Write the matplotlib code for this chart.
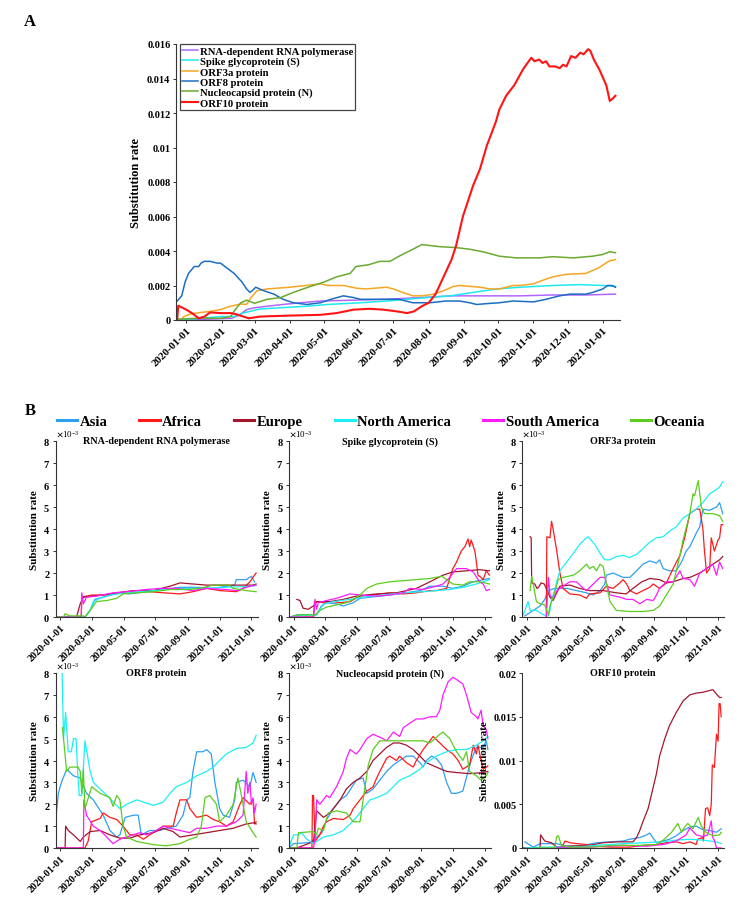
import numpy as np
import matplotlib
matplotlib.use('Agg')
import matplotlib.pyplot as plt
import matplotlib.dates as mdates
from matplotlib.ticker import ScalarFormatter, FuncFormatter, MultipleLocator

plt.rcParams['font.family'] = ['Liberation Serif', 'DejaVu Serif']
plt.rcParams['font.weight'] = 'bold'
plt.rcParams['mathtext.fontset'] = 'stix'

# points are (days since 2020-01-01, value)
base = np.datetime64('2020-01-01')

# ---- panel A: substitution rate per protein
a_rdrp = [(-6,0),(20,0.00005),(40,0.0001),(47,0.0003),(53,0.0006),(59,0.0007),(71,0.0008),(85,0.0009),(100,0.001),(118,0.0011),(147,0.00115),(176,0.0012),(205,0.0013),(235,0.0014),(264,0.0014),(293,0.0014),(322,0.00145),(351,0.00145),(377,0.0015)]
a_spike = [(-6,0),(13,0.0001),(30,0.0002),(42,0.0002),(50,0.0004),(56,0.0005),(65,0.00064),(88,0.00073),(106,0.0008),(124,0.0009),(153,0.001),(176,0.0011),(194,0.0012),(211,0.0013),(232,0.0014),(252,0.0016),(273,0.0018),(293,0.0019),(322,0.002),(346,0.00205),(366,0.002),(377,0.00195)]
a_orf3a = [(-5,0),(-2,0.0002),(4,0.00035),(13,0.00044),(21,0.0005),(30,0.0006),(39,0.0008),(48,0.00093),(53,0.0009),(57,0.0013),(62,0.0017),(71,0.0018),(91,0.0019),(109,0.00203),(118,0.0021),(124,0.002),(138,0.002),(150,0.00184),(158,0.0018),(176,0.0019),(182,0.0018),(190,0.0016),(199,0.0014),(208,0.0014),(217,0.0015),(226,0.0017),(235,0.00195),(240,0.002),(249,0.00195),(258,0.0019),(267,0.0018),(275,0.0018),(287,0.002),(293,0.002),(305,0.0021),(313,0.0023),(322,0.0025),(334,0.00265),(351,0.0027),(363,0.00305),(372,0.00344),(377,0.0035)]
a_orf8 = [(-8,0.0011),(-4,0.0014),(-1,0.0022),(2,0.0027),(7,0.0031),(11,0.0031),(13,0.0033),(16,0.0034),(21,0.0034),(27,0.0033),(30,0.0033),(36,0.003),(42,0.0027),(49,0.0022),(53,0.0018),(56,0.0016),(58,0.0017),(61,0.0019),(68,0.0017),(77,0.0015),(85,0.0012),(94,0.001),(106,0.0009),(118,0.001),(127,0.0012),(138,0.0014),(147,0.0013),(153,0.0012),(176,0.0012),(187,0.0012),(199,0.001),(214,0.001),(228,0.0011),(240,0.0011),(249,0.001),(255,0.0009),(264,0.00095),(275,0.001),(287,0.0011),(305,0.00105),(316,0.0012),(328,0.0014),(337,0.0015),(351,0.0015),(357,0.0016),(366,0.0018),(370,0.002),(374,0.002),(377,0.0019)]
a_nucleo = [(-7,0.00005),(10,0.0001),(30,0.0001),(39,0.0002),(43,0.0006),(48,0.001),(53,0.00115),(60,0.00097),(71,0.0012),(83,0.0013),(94,0.0016),(107,0.0019),(121,0.0022),(132,0.0025),(144,0.0027),(149,0.0031),(160,0.0032),(170,0.0034),(179,0.0034),(187,0.0037),(199,0.0041),(207,0.00437),(223,0.00425),(237,0.0042),(249,0.0041),(261,0.00395),(275,0.0037),(290,0.0036),(310,0.0036),(322,0.00367),(340,0.0036),(357,0.0037),(366,0.0038),(372,0.00396),(377,0.0039)]
a_orf10 = [(-8,0),(-7,0.00083),(0,0.0006),(5,0.0004),(11,0.0001),(16,0.0002),(21,0.00044),(30,0.0004),(39,0.0004),(43,0.00035),(50,0.0002),(55,0.0001),(65,0.0002),(88,0.00025),(118,0.0003),(132,0.0004),(147,0.0006),(161,0.00065),(173,0.0006),(185,0.0005),(194,0.0004),(200,0.0005),(207,0.0008),(213,0.001),(219,0.0015),(226,0.0025),(233,0.0035),(237,0.0043),(243,0.006),(252,0.0078),(258,0.00875),(264,0.0101),(272,0.0115),(275,0.0122),(281,0.013),(288,0.0136),(296,0.01455),(303,0.0152),(306,0.015),(310,0.0151),(313,0.0149),(316,0.015),(319,0.0147),(324,0.0147),(328,0.0146),(331,0.0148),(334,0.0147),(338,0.0153),(342,0.0152),(346,0.0155),(349,0.0154),(353,0.0157),(355,0.0156),(358,0.0151),(363,0.0145),(369,0.0136),(372,0.0127),(374,0.0128),(377,0.013)]

a_labels = ['RNA-dependent RNA polymerase', 'Spike glycoprotein (S)', 'ORF3a protein',
            'ORF8 protein', 'Nucleocapsid protein (N)', 'ORF10 protein']
a_series = [a_rdrp, a_spike, a_orf3a, a_orf8, a_nucleo, a_orf10]
a_colors = ['#b266ff', '#1ee8f0', '#f5a623', '#1b6ec2', '#6aaa2e', '#ff1414']

# ---- panel B: per region, values in units of 1e-3
regions = ['Asia', 'Africa', 'Europe', 'North America', 'South America', 'Oceania']
region_colors = ['#2f9ff0', '#ff1a1a', '#a3162e', '#1cf0f5', '#ff1aff', '#5ccc1e']

rdrp_asia = [(-10,0),(47,0),(57,0.3),(66,0.8),(89,0.95),(114,1.1),(133,1.05),(165,1.15),(197,1.25),(229,1.35),(261,1.35),(293,1.3),(318,1.4),(334,1.45),(337,1.7),(356,1.7),(366,1.85),(372,1.6)]
rdrp_africa = [(-8,0),(40,0),(41,0.9),(60,1.0),(89,1.0),(114,1.1),(146,1.2),(197,1.1),(229,1.05),(254,1.15),(280,1.3),(305,1.2),(337,1.15),(350,1.3),(363,1.6),(372,1.9),(375,2.0)]
rdrp_europe = [(-8,0),(31,0),(38,0.6),(44,0.9),(60,0.95),(82,1.0),(108,1.1),(140,1.2),(178,1.2),(210,1.4),(229,1.55),(254,1.5),(280,1.45),(318,1.45),(369,1.45),(375,1.5)]
rdrp_namerica = [(-8,0),(47,0),(57,0.3),(63,0.7),(76,0.85),(95,1.0),(127,1.1),(178,1.2),(229,1.3),(280,1.3),(318,1.35),(369,1.4),(375,1.45)]
rdrp_samerica = [(-8,0),(40,0),(41,1.1),(44,0.6),(50,0.9),(69,0.95),(101,1.1),(127,1.15),(165,1.25),(191,1.3),(222,1.3),(254,1.2),(280,1.3),(318,1.25),(337,1.2),(363,1.4),(375,1.45)]
rdrp_oceania = [(-8,0),(6,0),(9,0.15),(18,0.05),(44,0.05),(47,0),(57,0.3),(69,0.7),(89,0.75),(108,0.85),(120,1.05),(146,1.1),(178,1.15),(210,1.25),(242,1.25),(267,1.3),(293,1.45),(324,1.45),(331,1.3),(356,1.2),(375,1.15)]

spike_asia = [(-7,0),(6,0.1),(44,0.1),(53,0.5),(63,0.65),(82,0.6),(95,0.5),(114,0.65),(127,0.85),(146,0.9),(184,1.0),(216,1.1),(242,1.2),(261,1.4),(286,1.4),(305,1.3),(324,1.4),(344,1.6),(363,1.7),(375,1.75)]
spike_africa = [(-7,0),(38,0),(40,0.7),(57,0.65),(76,0.7),(89,0.65),(108,0.7),(127,0.95),(152,1.0),(184,1.1),(210,1.05),(235,1.1),(261,1.2),(273,1.2),(293,1.3),(302,2.0),(305,2.2),(312,2.5),(321,3.0),(328,3.2),(334,3.55),(337,3.2),(340,3.5),(347,3.0),(350,2.5),(353,1.9),(359,1.8),(363,1.7),(369,2.1),(375,1.9)]
spike_europe = [(6,0.8),(12,0.75),(18,0.4),(28,0.35),(34,0.45),(38,0.5),(44,0.7),(69,0.7),(95,0.8),(120,0.95),(159,1.05),(197,1.1),(235,1.3),(261,1.6),(286,1.9),(305,2.05),(331,2.1),(356,2.15),(375,2.1)]
spike_namerica = [(-7,0),(6,0.05),(44,0.1),(50,0.3),(57,0.6),(76,0.7),(108,0.8),(133,0.9),(171,1.0),(210,1.1),(248,1.15),(273,1.2),(299,1.25),(324,1.35),(350,1.5),(363,1.6),(375,1.7)]
spike_samerica = [(-7,0),(38,0),(41,0.8),(44,0.35),(47,0.65),(63,0.75),(82,0.85),(108,1.05),(127,1.0),(159,0.95),(184,1.0),(210,1.1),(222,1.3),(248,1.25),(273,1.4),(286,1.5),(299,1.8),(312,2.2),(331,2.2),(344,2.05),(356,1.6),(363,1.5),(369,1.2),(375,1.25)]
spike_oceania = [(0,0.05),(12,0.1),(41,0.1),(50,0.3),(63,0.45),(82,0.55),(101,0.65),(114,0.8),(127,1.0),(140,1.3),(159,1.5),(184,1.6),(210,1.65),(235,1.7),(261,1.75),(283,1.85),(293,1.7),(305,1.5),(324,1.45),(337,1.6),(356,1.6),(366,1.55),(375,1.5)]

orf3a_asia = [(-4,0.05),(12,0.3),(25,0.5),(34,0.8),(41,1.2),(53,1.3),(76,1.3),(95,1.2),(114,1.1),(127,1.0),(140,1.2),(149,1.5),(152,1.9),(165,2.0),(184,1.8),(197,1.8),(210,2.1),(222,2.4),(235,2.55),(248,2.45),(254,2.6),(261,2.2),(273,2.1),(286,2.1),(296,2.5),(305,3.0),(312,3.2),(324,3.8),(331,4.1),(337,4.9),(350,4.85),(363,5.0),(369,5.2),(375,4.7)]
orf3a_africa = [(37,0),(38,3.65),(44,3.6),(47,4.35),(50,4.0),(57,3.0),(63,2.0),(69,1.3),(82,1.05),(101,1.0),(114,0.85),(120,1.05),(140,1.1),(152,1.4),(165,1.3),(178,1.55),(184,1.7),(191,1.5),(197,1.2),(210,1.05),(222,1.2),(235,1.35),(242,1.5),(254,1.3),(267,1.55),(280,2.2),(293,2.8),(302,3.6),(312,4.7),(324,4.9),(331,4.9),(337,4.0),(340,3.0),(344,2.0),(350,2.2),(353,3.6),(359,3.0),(366,3.5),(369,3.6),(372,4.2),(375,4.2)]
orf3a_europe = [(6,3.65),(8,3.6),(9,1.55),(15,1.5),(19,1.3),(22,1.35),(27,1.55),(33,1.5),(37,1.3),(44,0.9),(50,0.75),(57,1.1),(63,1.4),(82,1.45),(101,1.3),(120,1.2),(146,1.2),(171,1.1),(190,1.05),(203,1.3),(220,1.6),(235,1.75),(254,1.7),(267,1.55),(280,1.6),(299,1.75),(312,1.8),(331,2.0),(344,2.2),(356,2.4),(369,2.6),(375,2.75)]
orf3a_namerica = [(-7,0.1),(2,0.7),(6,0.3),(18,0.3),(31,0.1),(41,0.05),(44,0.3),(47,0.8),(53,1.2),(57,1.6),(63,2.1),(76,2.5),(89,2.9),(101,3.3),(114,3.6),(117,3.65),(130,3.3),(140,2.9),(149,2.6),(159,2.6),(171,2.75),(184,2.8),(197,2.7),(210,2.85),(222,3.1),(235,3.4),(248,3.6),(261,3.65),(273,3.9),(286,4.1),(299,4.5),(312,4.7),(324,4.9),(337,5.2),(350,5.6),(363,5.8),(369,5.9),(375,6.15)]
orf3a_samerica = [(37,0),(41,1.8),(44,1.0),(50,0.8),(57,1.2),(69,1.4),(82,1.6),(95,1.6),(108,1.3),(114,1.2),(127,1.5),(140,1.8),(149,1.8),(159,1.0),(178,0.9),(191,0.8),(203,0.8),(216,0.6),(229,0.8),(242,0.75),(248,1.0),(254,1.3),(267,1.6),(280,1.6),(293,2.1),(299,1.75),(312,1.7),(321,1.4),(331,2.0),(344,2.2),(356,2.4),(363,1.9),(369,2.5),(375,2.2)]
orf3a_oceania = [(6,1.2),(9,1.85),(12,1.5),(18,0.7),(25,0.6),(34,0.55),(41,0.1),(44,0.5),(50,0.9),(60,1.7),(69,1.8),(89,1.9),(101,2.1),(114,2.4),(120,2.2),(127,2.3),(133,2.1),(140,2.4),(146,2.3),(152,1.5),(159,0.7),(171,0.3),(197,0.25),(222,0.25),(242,0.3),(254,0.5),(267,1.0),(280,1.5),(293,2.8),(299,3.5),(312,4.7),(318,5.6),(321,5.5),(328,6.2),(334,5.0),(340,4.7),(356,4.7),(369,4.6),(375,4.35)]

orf8_asia = [(-10,1.0),(-4,2.5),(2,3.0),(12,3.6),(25,3.3),(38,3.2),(50,2.5),(63,2.2),(82,1.5),(95,0.8),(108,0.5),(114,0.6),(124,1.4),(140,1.5),(149,1.5),(155,0.6),(171,0.8),(191,0.8),(203,0.9),(222,1.0),(235,1.5),(242,2.2),(248,2.3),(254,3.5),(261,4.4),(273,4.4),(280,4.5),(289,4.3),(296,3.0),(305,1.8),(312,1.5),(324,1.4),(334,2.2),(337,3.0),(350,3.1),(363,2.8),(369,3.45),(375,3.0)]
orf8_africa = [(-8,0),(47,0),(53,0.3),(60,1.2),(76,1.35),(82,1.6),(95,1.4),(108,1.3),(120,1.0),(133,0.6),(146,0.6),(159,0.4),(171,0.6),(184,0.8),(197,1.0),(216,1.0),(222,1.6),(229,2.2),(242,2.2),(248,1.8),(261,1.4),(280,1.5),(293,1.3),(305,1.2),(318,1.0),(331,1.2),(344,2.0),(350,2.3),(363,2.0),(369,2.2),(372,1.1),(375,1.2)]
orf8_europe = [(-8,0),(9,0),(10,1.0),(15,0.8),(25,0.6),(38,0.3),(44,0.5),(57,0.75),(76,0.8),(95,0.6),(114,0.45),(133,0.45),(152,0.6),(178,0.7),(197,0.9),(216,0.75),(229,0.5),(254,0.6),(280,0.7),(305,0.8),(331,0.9),(356,1.1),(369,1.15),(375,1.1)]
orf8_namerica = [(2,9.5),(6,5.0),(10,6.2),(15,4.4),(21,4.4),(25,5.0),(30,5.0),(33,3.5),(36,2.4),(41,2.4),(47,4.9),(50,4.5),(57,3.5),(63,3.0),(76,2.7),(89,2.4),(101,2.1),(114,1.8),(127,2.0),(146,2.2),(159,2.1),(178,1.95),(197,2.1),(210,2.5),(222,2.8),(242,3.0),(261,3.3),(280,3.5),(293,3.7),(305,4.0),(318,4.3),(337,4.55),(356,4.6),(369,4.8),(375,5.15)]
orf8_samerica = [(-8,0),(44,0),(45,2.2),(50,1.5),(63,1.0),(76,0.8),(89,0.5),(101,0.2),(114,0.4),(133,0.55),(152,0.7),(165,0.6),(184,0.8),(197,1.0),(210,0.9),(229,0.8),(248,0.7),(261,0.9),(280,0.9),(299,1.0),(318,1.0),(337,1.2),(350,1.5),(356,3.5),(359,2.5),(363,3.0),(366,2.0),(369,2.3),(372,1.6),(375,2.0)]
orf8_oceania = [(4,5.5),(8,4.5),(12,3.5),(18,3.7),(34,3.7),(38,3.5),(41,2.5),(44,3.6),(47,1.8),(60,2.8),(76,2.5),(95,2.3),(101,1.9),(108,2.4),(114,2.2),(120,1.0),(127,0.5),(146,0.3),(178,0.15),(203,0.1),(229,0.2),(248,0.4),(261,0.5),(270,1.0),(277,2.3),(286,2.4),(299,2.0),(305,1.2),(318,1.5),(331,2.0),(340,3.2),(346,2.5),(356,1.2),(369,0.7),(375,0.5)]

nucleo_asia = [(-10,0),(0,0.2),(32,0.25),(44,0.5),(54,0.7),(63,1.3),(76,1.8),(89,2.2),(101,2.4),(120,3.1),(133,3.2),(140,2.5),(152,2.7),(165,3.1),(178,3.5),(191,3.8),(203,4.0),(216,4.2),(229,4.2),(242,3.9),(248,3.7),(254,4.0),(264,4.2),(273,4.1),(283,3.8),(293,3.0),(302,2.5),(312,2.5),(324,2.6),(334,3.5),(340,4.0),(350,4.6),(363,4.6),(369,4.9),(372,4.5)]
nucleo_africa = [(-8,0),(35,0),(36,2.4),(38,2.4),(41,0.3),(50,0.6),(57,1.0),(63,1.2),(76,1.35),(95,1.3),(108,1.5),(114,1.8),(127,2.2),(140,2.6),(152,2.8),(159,3.2),(165,3.5),(178,4.1),(184,4.2),(197,4.0),(203,4.2),(216,3.9),(229,3.7),(235,4.0),(248,4.5),(261,4.9),(267,5.1),(280,4.8),(293,4.5),(305,4.3),(315,4.0),(324,3.6),(337,3.8),(344,4.7),(350,4.3),(353,4.7),(359,4.0),(363,3.6),(369,3.7),(372,3.75)]
nucleo_europe = [(-8,0),(6,0),(28,0.2),(38,0.3),(44,1.7),(57,1.4),(69,1.6),(76,1.8),(89,2.2),(101,2.7),(114,3.0),(127,3.2),(140,3.5),(152,4.0),(165,4.3),(178,4.6),(191,4.8),(203,4.8),(216,4.7),(229,4.5),(242,4.2),(254,3.9),(273,3.7),(293,3.5),(312,3.45),(337,3.4),(363,3.45),(372,3.5)]
nucleo_namerica = [(-10,0),(0,0.6),(9,0.6),(15,0.7),(25,0.4),(38,0.2),(44,0.3),(57,0.5),(76,0.6),(95,0.8),(108,1.1),(120,1.4),(133,1.8),(146,2.2),(159,2.3),(178,2.5),(191,2.8),(203,3.1),(222,3.3),(242,3.6),(254,3.9),(273,4.2),(293,4.4),(312,4.5),(331,4.5),(350,4.7),(363,4.9),(372,5.1)]
nucleo_samerica = [(-8,0),(38,0),(41,0.5),(44,2.2),(50,2.0),(63,2.4),(69,2.3),(82,2.8),(95,3.5),(101,4.1),(108,4.5),(120,4.3),(127,4.5),(140,5.0),(152,5.2),(171,5.0),(178,4.9),(191,5.3),(203,5.1),(210,5.5),(222,5.7),(235,5.9),(248,5.9),(261,6.0),(273,6.0),(280,6.3),(286,7.0),(296,7.6),(305,7.8),(312,7.7),(324,7.5),(331,7.0),(340,6.2),(350,6.0),(353,5.9),(359,6.3),(363,5.6),(369,5.4),(372,5.0)]
nucleo_oceania = [(-8,0),(6,0),(9,0.7),(38,0.75),(44,0.6),(47,0.9),(57,0.8),(66,1.6),(82,1.7),(101,1.6),(114,1.2),(127,1.2),(133,2.2),(143,3.8),(152,4.5),(165,4.9),(203,4.9),(248,4.9),(261,4.8),(280,5.2),(286,5.3),(299,5.0),(312,4.4),(324,4.0),(331,4.4),(337,3.5),(350,3.3),(359,3.1),(369,3.3),(372,3.45)]

orf10_asia = [(-4,0.7),(12,0.1),(25,0.5),(57,0.5),(76,0.2),(108,0.3),(133,0.6),(159,0.7),(184,0.8),(197,1.0),(216,1.2),(229,1.5),(235,1.7),(248,0.6),(261,0.8),(273,1.0),(286,1.4),(299,2.0),(312,2.4),(324,2.5),(337,2.1),(350,2.0),(363,1.8),(372,2.2)]
orf10_africa = [(-8,0),(66,0),(73,0.8),(82,0.6),(95,0.5),(114,0.4),(133,0.2),(159,0.1),(197,0.1),(222,0.3),(248,0.4),(267,0.6),(286,0.7),(299,0.5),(312,0.7),(324,0.4),(327,1.0),(337,1.2),(338,0.8),(342,4.5),(346,4.6),(350,3.7),(353,5.0),(355,9.5),(359,9.2),(363,13.0),(366,12.2),(368,16.5),(370,16.5),(372,15.0)]
orf10_europe = [(-8,0),(25,0),(26,1.5),(34,0.8),(47,0.6),(57,0.1),(76,0.2),(120,0.3),(146,0.6),(171,0.7),(203,0.7),(210,1.2),(216,2.0),(222,3.0),(232,4.5),(238,6.0),(248,8.5),(254,10.5),(264,12.5),(273,14.0),(286,15.5),(299,16.8),(312,17.5),(324,17.7),(337,17.8),(350,18.0),(356,18.1),(363,17.6),(369,17.2),(372,17.2)]
orf10_namerica = [(-4,0),(31,0.1),(89,0.1),(133,0.3),(184,0.5),(222,0.6),(261,0.7),(286,0.9),(312,1.0),(337,0.9),(363,0.7),(372,0.5)]
orf10_samerica = [(57,0),(120,0.1),(184,0.3),(229,0.2),(261,0.4),(286,0.8),(305,1.5),(312,2.3),(324,1.5),(337,1.3),(346,1.5),(353,3.1),(356,1.2),(359,0.9),(363,0),(372,0)]
orf10_oceania = [(12,0),(53,0),(57,1.3),(60,1.4),(66,0.3),(82,0.1),(120,0.1),(171,0.3),(216,0.3),(248,0.4),(261,0.9),(277,1.8),(289,2.8),(296,1.8),(302,2.4),(308,2.8),(318,2.2),(328,3.5),(334,2.5),(343,1.8),(356,1.4),(369,1.5),(372,1.8)]

b_titles = ['RNA-dependent RNA polymerase', 'Spike glycoprotein (S)', 'ORF3a protein',
            'ORF8 protein', 'Nucleocapsid protein (N)', 'ORF10 protein']
b_panels = [
    [rdrp_asia, rdrp_africa, rdrp_europe, rdrp_namerica, rdrp_samerica, rdrp_oceania],
    [spike_asia, spike_africa, spike_europe, spike_namerica, spike_samerica, spike_oceania],
    [orf3a_asia, orf3a_africa, orf3a_europe, orf3a_namerica, orf3a_samerica, orf3a_oceania],
    [orf8_asia, orf8_africa, orf8_europe, orf8_namerica, orf8_samerica, orf8_oceania],
    [nucleo_asia, nucleo_africa, nucleo_europe, nucleo_namerica, nucleo_samerica, nucleo_oceania],
    [orf10_asia, orf10_africa, orf10_europe, orf10_namerica, orf10_samerica, orf10_oceania],
]


def unpack(pts):
    d = base + np.array([p[0] for p in pts]).astype('timedelta64[D]')
    v = np.array([p[1] for p in pts], dtype=float)
    return d, v


def style(ax, fs=7):
    for s in ['top', 'right']:
        ax.spines[s].set_visible(False)
    for s in ['left', 'bottom']:
        ax.spines[s].set_linewidth(0.8)
        ax.spines[s].set_color('#333333')
    ax.tick_params(labelsize=fs, width=0.7, length=2.5, color='#333333', pad=1.5)


gfmt = FuncFormatter(lambda v, p: '%g' % round(v, 6))

W, H = 744, 904
fig = plt.figure(figsize=(W / 100, H / 100), dpi=100)


def add_px(l, t, r, b):
    return fig.add_axes([l / W, 1 - b / H, (r - l) / W, (b - t) / H])


# ---- A
ax = add_px(176, 45, 620, 321)
style(ax, 7.5)
ax.tick_params(axis='x', labelsize=7.8)
for pts, lab, col in zip(a_series, a_labels, a_colors):
    d, v = unpack(pts)
    ax.plot(d, v, color=col, lw=1.5 if lab == 'ORF10 protein' else 1.1, label=lab)
ax.set_ylim(0, 0.016)
ax.yaxis.set_major_locator(MultipleLocator(0.002))
ax.yaxis.set_major_formatter(gfmt)
ax.set_xlim(np.datetime64('2019-12-23'), np.datetime64('2021-01-16'))
ax.xaxis.set_major_locator(mdates.MonthLocator(bymonthday=1))
ax.xaxis.set_major_formatter(mdates.DateFormatter('%Y-%m-%d'))
plt.setp(ax.get_xticklabels(), rotation=45, ha='right', rotation_mode='anchor')
ax.set_ylabel('Substitution rate', fontsize=9, fontweight='bold', labelpad=4)
leg = ax.legend(loc='upper left', bbox_to_anchor=(0.009, 1.0), fontsize=7.7, fancybox=False,
                edgecolor='#444444', framealpha=1, borderaxespad=0, borderpad=0.2,
                handlelength=1.5, handletextpad=0.15, labelspacing=0.08)
leg.get_frame().set_linewidth(0.9)

# ---- B
lefts = [55.7, 289, 522.3]
rows = [(442, 618), (674, 849)]
b_axes = []
for i, (title, series) in enumerate(zip(b_titles, b_panels)):
    t, b = rows[i // 3]
    l = lefts[i % 3]
    ax = add_px(l, t, l + 202, b)
    style(ax, 7.5)
    ax.tick_params(axis='x', labelsize=7.3)
    for pts, col, reg in zip(series, region_colors, regions):
        d, v = unpack(pts)
        ax.plot(d, v * 1e-3, color=col, lw=0.9, label=reg)
    if title == 'ORF10 protein':
        ax.set_ylim(0, 0.02)
        ax.yaxis.set_major_locator(MultipleLocator(0.005))
        ax.yaxis.set_major_formatter(gfmt)
    else:
        ax.set_ylim(0, 0.008)
        ax.yaxis.set_major_locator(MultipleLocator(0.001))
        sf = ScalarFormatter(useMathText=True)
        sf.set_powerlimits((0, 0))
        ax.yaxis.set_major_formatter(sf)
        ax.yaxis.get_offset_text().set_fontsize(6.5)
        ax.yaxis.get_offset_text().set_fontweight('normal')
    ax.set_xlim(np.datetime64('2019-12-23'), np.datetime64('2021-01-13'))
    ax.xaxis.set_major_locator(mdates.MonthLocator(bymonth=[1, 3, 5, 7, 9, 11], bymonthday=1))
    ax.xaxis.set_major_formatter(mdates.DateFormatter('%Y-%m-%d'))
    plt.setp(ax.get_xticklabels(), rotation=45, ha='right', rotation_mode='anchor')
    ax.set_ylabel('Substitution rate', fontsize=8, fontweight='bold', labelpad=3)
    ax.text(0.5, 1.0, title, transform=ax.transAxes, ha='center', va='center',
            fontsize=7.3, fontweight='bold')
    b_axes.append(ax)

handles, labels = b_axes[0].get_legend_handles_labels()
bleg = fig.legend(handles, labels, loc='center', ncol=6, mode='expand',
                  bbox_to_anchor=(57 / W, 1 - 432 / H, 648 / W, 20 / H), frameon=False,
                  fontsize=10.5, handlelength=1.4, handletextpad=0.15, borderaxespad=0,
                  borderpad=0)
for ln in bleg.get_lines():
    ln.set_linewidth(2.2)

fig.text(30 / W, 1 - 22 / H, 'A', fontsize=12, fontweight='bold', ha='center', va='center')
fig.text(30 / W, 1 - 411 / H, 'B', fontsize=12, fontweight='bold', ha='center', va='center')

fig.savefig('out.png', dpi=100)
